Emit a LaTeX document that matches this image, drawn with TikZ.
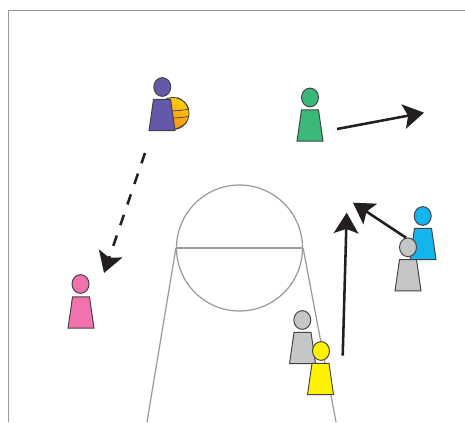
\documentclass[tikz,border=0pt]{standalone}
\usepackage{xcolor}
\usetikzlibrary{shapes.geometric,arrows.meta}
\definecolor{inkdark}{HTML}{231F20}
\definecolor{courtgrey}{HTML}{9A9A9A}
\definecolor{playerpurple}{HTML}{6259A8}
\definecolor{playergreen}{HTML}{39B878}
\definecolor{playerblue}{HTML}{12B5EC}
\definecolor{playergrey}{HTML}{C4C6C8}
\definecolor{playeryellow}{HTML}{FFF200}
\definecolor{playerpink}{HTML}{F272AE}
\definecolor{ballorange}{HTML}{F7941D}
\definecolor{ballyellow}{HTML}{FFD200}

\begin{document}
\begin{tikzpicture}[
  x=0.02cm,y=-0.02cm,
  head/.style={ellipse,draw=inkdark!85,line width=0.55pt,inner sep=0pt,minimum width=0.34cm,minimum height=0.375cm},
  torso/.style={trapezium,trapezium stretches=true,trapezium left angle=75.2,trapezium right angle=75.2,draw=inkdark!85,line width=0.55pt,inner sep=1pt,minimum width=0.52cm,minimum height=0.625cm},
  court/.style={courtgrey,line width=0.7pt},
  move/.style={inkdark,line width=1.45pt,-{Stealth[length=11.7pt,width=14pt,inset=2.5pt]}},
  pass/.style={move,dash pattern=on 6.2pt off 6.2pt},
  seam/.style={inkdark!85,line width=0.4pt}
]
  \useasboundingbox (0,0) rectangle (465,422);
  % court
  \coordinate (framebottom) at (8.3,422);
  \coordinate (framecorner) at (8.3,10.3);
  \coordinate (frameright) at (465,10.3);
  \draw[court,line width=0.8pt] (framebottom) -- (framecorner) -- (frameright);
  \node[circle,court,draw,inner sep=0pt,minimum size=2.52cm] (circle) at (239.5,248) {};
  \coordinate (laneleft) at (147,422);
  \coordinate (laneright) at (336,422);
  \draw[court] (circle.west) -- (circle.east);
  \draw[court] (circle.west) -- (laneleft);
  \draw[court] (circle.east) -- (laneright);
  % ball
  \node[circle,draw=inkdark!85,line width=0.5pt,inner sep=0pt,minimum size=0.64cm,shading=axis,top color=ballyellow,bottom color=ballorange,middle color=ballorange!70!ballyellow,shading angle=-35] (ball) at (173,113.5) {};
  \draw[seam] (ball.170) to[bend right=6] (ball.15);
  \draw[seam] (ball.190) to[bend right=10] (ball.-10);
  \draw[seam] (ball.-90) to[bend right=8] (ball.-35);
  \draw[seam] (ball.75) to[bend left=25] (ball.15);
  % players
  \node[torso,fill=playerpurple] (purplebody) at (162,115) {};
  \node[head,fill=playerpurple] (purple) at (162.3,87) {};
  \node[torso,fill=playergreen] (greenbody) at (310,125.5) {};
  \node[head,fill=playergreen] (green) at (310,97.5) {};
  \node[torso,fill=playerblue] (bluebody) at (423,244) {};
  \node[head,fill=playerblue] (blue) at (422.7,216) {};
  \node[torso,fill=playergrey] (greyrightbody) at (408,275.2) {};
  \node[head,fill=playergrey] (greyright) at (408,247.3) {};
  \node[torso,fill=playergrey] (greyleftbody) at (302.5,348) {};
  \node[head,fill=playergrey] (greyleft) at (302.3,320) {};
  \node[torso,fill=playeryellow] (yellowbody) at (320.5,379) {};
  \node[head,fill=playeryellow] (yellow) at (321,351) {};
  \node[torso,fill=playerpink] (pinkbody) at (81,312.5) {};
  \node[head,fill=playerpink] (pink) at (80.5,284) {};
  % arrows
  \coordinate (greentail) at (337,129);
  \coordinate (greentip) at (424,112.7);
  \coordinate (yellowtail) at (342.7,355.7);
  \coordinate (yellowtip) at (346.7,212.7);
  \coordinate (bluetail) at (406,237.7);
  \coordinate (bluetip) at (353,202.7);
  \coordinate (passtail) at (145,153);
  \coordinate (passtip) at (104,273);
  \draw[move] (greentail) -- (greentip);
  \draw[move] (yellowtail) -- (yellowtip);
  \draw[move] (bluetail) -- (bluetip);
  \draw[pass] (passtail) -- (passtip);
\end{tikzpicture}
\end{document}
